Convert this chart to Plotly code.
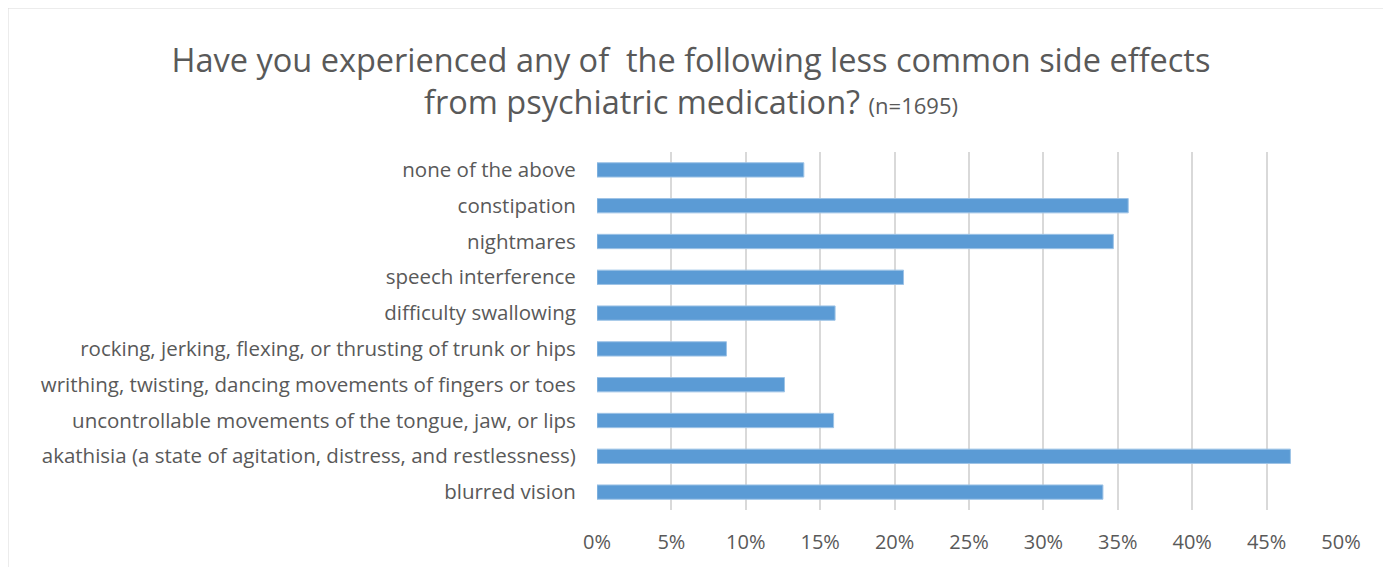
import plotly.graph_objects as go

# survey categories, bottom to top as drawn
categories = [
    "blurred vision",
    "akathisia (a state of agitation, distress, and restlessness)",
    "uncontrollable movements of the tongue, jaw, or lips",
    "writhing, twisting, dancing movements of fingers or toes",
    "rocking, jerking, flexing, or thrusting of trunk or hips",
    "difficulty swallowing",
    "speech interference",
    "nightmares",
    "constipation",
    "none of the above",
]
shares = [0.340, 0.466, 0.159, 0.126, 0.087, 0.160, 0.206, 0.347, 0.357, 0.139]

FONT = "Open Sans"
GREY = "#595959"

fig = go.Figure(
    go.Bar(
        x=shares,
        y=categories,
        orientation="h",
        marker=dict(color="#5b9bd5", line=dict(color="#9dc3e6", width=1)),
        width=0.4,
    )
)

fig.update_layout(
    width=1391,
    height=567,
    margin=dict(l=589, r=58, t=144, b=65),
    paper_bgcolor="white",
    plot_bgcolor="white",
    showlegend=False,
    font=dict(family=FONT, color=GREY),
    title=dict(
        text="Have you experienced any of  the following less common side effects<br>"
        "from psychiatric medication? <span style='font-size:22px'>(n=1695)</span>",
        x=0.491,
        xanchor="center",
        y=0.888,
        yanchor="middle",
        font=dict(family=FONT, size=32.5, color=GREY),
    ),
    xaxis=dict(
        range=[0, 0.5],
        dtick=0.05,
        tickformat=".0%",
        showgrid=True,
        gridcolor="#d9d9d9",
        gridwidth=1.5,
        zeroline=False,
        showline=False,
        tickfont=dict(size=20, color=GREY),
        ticks="outside",
        ticklen=14,
        tickcolor="white",
        automargin=False,
    ),
    yaxis=dict(
        showgrid=False,
        showline=False,
        tickfont=dict(size=20.5, color=GREY),
        ticks="outside",
        ticklen=16,
        tickcolor="white",
        automargin=False,
    ),
    shapes=[
        dict(
            type="rect",
            xref="paper",
            yref="paper",
            x0=-589 / 744,
            x1=(1377 - 589) / 744,
            y0=-0.5,
            y1=502 / 358,
            line=dict(color="#d9d9d9", width=1),
            fillcolor="rgba(0,0,0,0)",
            layer="below",
        )
    ],
)

fig.write_html("out.html")
